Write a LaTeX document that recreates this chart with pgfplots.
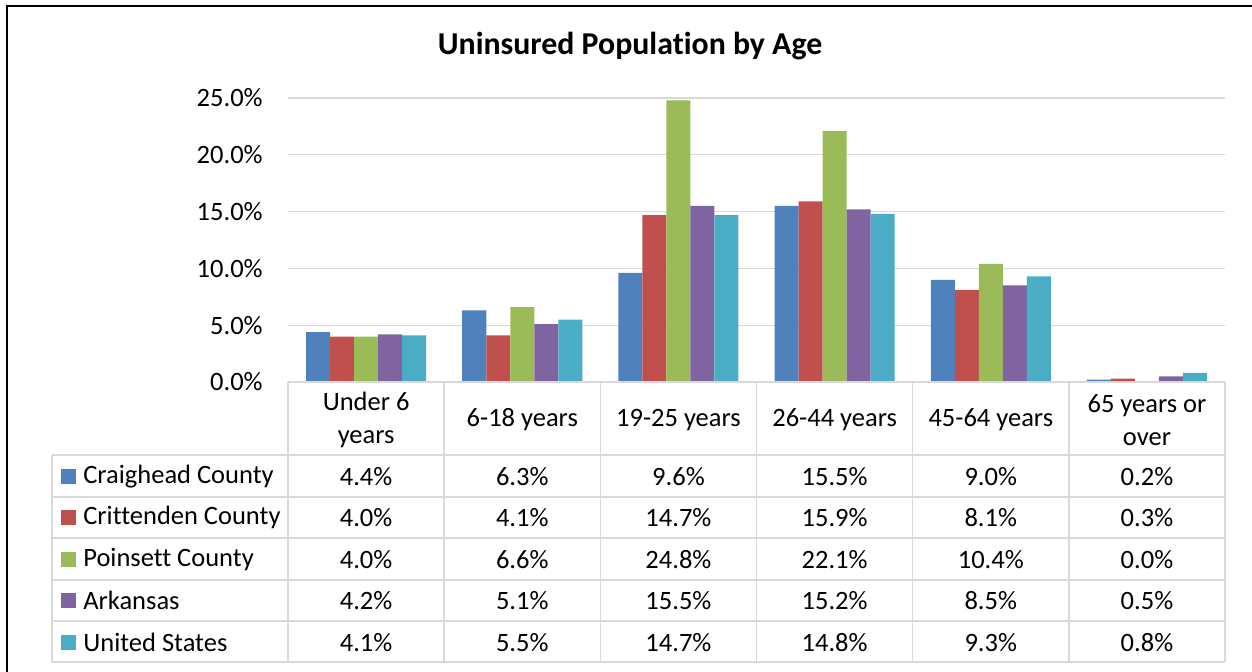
\documentclass[border=0pt]{standalone}
\usepackage{pgfplots}
\usepackage{pgfplotstable}
\pgfplotsset{compat=1.18}
\usepackage{fontspec}
\setmainfont{Carlito}[Ligatures={NoCommon}]
\definecolor{c1}{HTML}{4F81BD}
\definecolor{c2}{HTML}{C0504D}
\definecolor{c3}{HTML}{9BBB59}
\definecolor{c4}{HTML}{8064A2}
\definecolor{c5}{HTML}{4BACC6}
\definecolor{gridc}{HTML}{D9D9D9}
\pgfplotstableread{
x craig critt poin ark us
0 4.4 4.0 4.0 4.2 4.1
1 6.3 4.1 6.6 5.1 5.5
2 9.6 14.7 24.8 15.5 14.7
3 15.5 15.9 22.1 15.2 14.8
4 9.0 8.1 10.4 8.5 9.3
5 0.2 0.3 0.0 0.5 0.8
}\data
\newcommand{\lbl}{\fontsize{15.9}{19.6}\selectfont}
\begin{document}
\begin{tikzpicture}
\path[use as bounding box] (0,0) rectangle (751.2pt,-403.2pt);
\begin{axis}[
  at={(172.8pt,-229.2pt)}, anchor=south west,
  scale only axis, width=562.2pt, height=170.4pt,
  xmin=-0.5, xmax=5.5, ymin=0, ymax=25,
  axis line style={draw=none},
  xtick=\empty, ytick={0,5,...,25},
  major tick length=0pt,
  ymajorgrids, grid style={gridc, line width=0.8pt},
  /pgf/number format/assume math mode=true,
  yticklabel={\pgfmathprintnumber[fixed,fixed zerofill,precision=1]{\tick}\%},
  yticklabel style={font=\lbl, anchor=east, inner sep=0pt, xshift=-15pt},
  ybar=0pt, bar width=0.1537,
  clip=false,
]
\addplot[fill=c1, draw=none, bar shift=-0.3074] table[x=x,y=craig]{\data};
\addplot[fill=c2, draw=none, bar shift=-0.1537] table[x=x,y=critt]{\data};
\addplot[fill=c3, draw=none, bar shift=0] table[x=x,y=poin]{\data};
\addplot[fill=c4, draw=none, bar shift=0.1537] table[x=x,y=ark]{\data};
\addplot[fill=c5, draw=none, bar shift=0.3074] table[x=x,y=us]{\data};
\end{axis}
\begin{scope}[x=0.6pt,y=-0.6pt]
  % outer frame
  \draw[line width=1.2pt] (7,680) -- (7,6) -- (1260,6);
  % title
  \node[font=\fontsize{19.1}{23}\selectfont\bfseries] at (630,46) {Uninsured Population by Age};
  % table grid
  \begin{scope}[draw=gridc, line width=0.9pt]
    \draw (288,382) -- (1225,382);
    \draw (52,455) -- (1225,455);
    \foreach \yy in {497,538,580,621,662} \draw (52,\yy) -- (1225,\yy);
    \draw (52,455) -- (52,662);
    \foreach \i in {0,...,6} \draw ({288+156.17*\i},382) -- ({288+156.17*\i},662);
  \end{scope}
  % header
  \foreach \t [count=\i from 0] in {{Under 6\\years},{6-18 years},{19-25 years},{26-44 years},{45-64 years},{65 years or\\over}}
    \node[font=\lbl, align=center] at ({366.1+156.17*\i},420) {\t};
  % legend rows
  \foreach \n/\c [count=\r from 0] in {Craighead County/c1,Crittenden County/c2,Poinsett County/c3,Arkansas/c4,United States/c5} {
    \fill[\c] (61,{469+41.4*\r}) rectangle (76,{484+41.4*\r});
    \node[font=\lbl, anchor=west, inner sep=0pt] at (83,{476.5+41.4*\r}) {\n};
  }
  % values
  \foreach \c [count=\r from 0] in {craig,critt,poin,ark,us} {
    \foreach \i in {0,...,5} {
      \pgfplotstablegetelem{\i}{\c}\of\data
      \node[font=\lbl] at ({366.1+156.17*\i},{476.5+41.4*\r}) {\pgfmathprintnumber[fixed,fixed zerofill,precision=1,assume math mode=true]{\pgfplotsretval}\%};
    }
  }
\end{scope}
\end{tikzpicture}
\end{document}
